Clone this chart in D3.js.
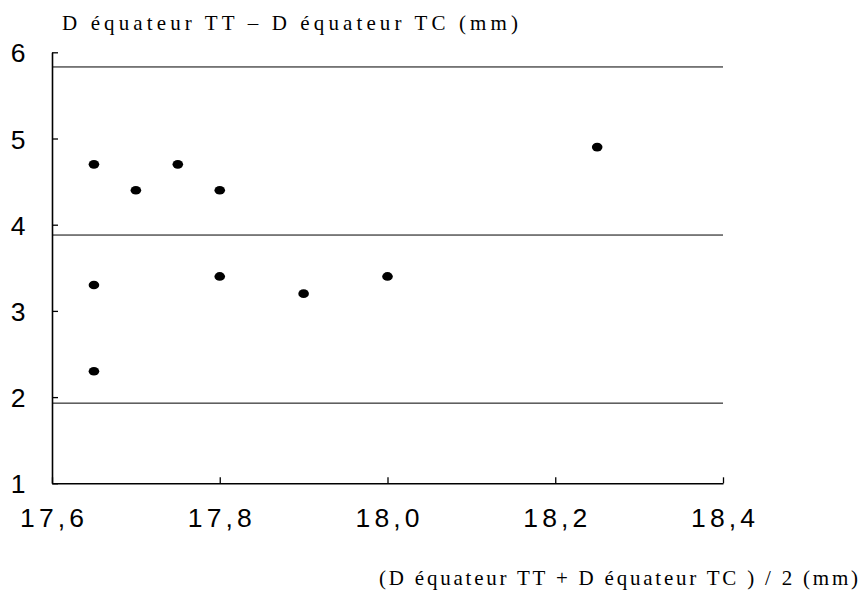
<!DOCTYPE html>
<html>
<head>
<meta charset="utf-8">
<script src="https://cdn.jsdelivr.net/npm/d3@7"></script>
<style>
  html, body { margin: 0; padding: 0; background: #fff; }
  svg { display: block; }
</style>
</head>
<body>
<svg id="chart" width="862" height="597"></svg>
<script>
// Bland-Altman style plot: mean of the two diameters vs. their difference
const meanDiameter = [17.65, 17.65, 17.65, 17.70, 17.75, 17.80, 17.80, 17.90, 18.00, 18.25];
const diffDiameter = [4.70, 3.30, 2.30, 4.40, 4.70, 4.40, 3.40, 3.20, 3.40, 4.90];

// Reference lines: mean difference and limits of agreement
const refLines = [5.83, 3.88, 1.93];

const xTicks = [17.6, 17.8, 18.0, 18.2, 18.4];
const xTickLabels = ["17,6", "17,8", "18,0", "18,2", "18,4"];
const yTicks = [1, 2, 3, 4, 5, 6];
const yTickLabels = ["1", "2", "3", "4", "5", "6"];

const yTitle = "D équateur TT – D équateur TC (mm)";
const xTitle = "(D équateur TT + D équateur TC ) / 2 (mm)";

const svg = d3.select("#chart");

const x = d3.scaleLinear().domain([17.6, 18.4]).range([52, 723]);
const y = d3.scaleLinear().domain([1, 6]).range([483.3, 52.3]);

// Horizontal reference lines
svg.append("g")
  .selectAll("line")
  .data(refLines)
  .join("line")
  .attr("x1", x(17.6))
  .attr("x2", x(18.4))
  .attr("y1", d => y(d))
  .attr("y2", d => y(d))
  .attr("stroke", "#000")
  .attr("stroke-width", 1);

// Y axis with inward ticks
const yAxis = svg.append("g")
  .attr("transform", `translate(${x(17.6)},0)`)
  .call(d3.axisLeft(y).tickValues(yTicks).tickSizeInner(-6).tickSizeOuter(0).tickFormat(""));
yAxis.select(".domain").attr("stroke", "#000").attr("stroke-width", 1.6);
yAxis.selectAll(".tick line").attr("stroke", "#000").attr("stroke-width", 1.3);

// X axis with upward ticks
const xAxis = svg.append("g")
  .attr("transform", `translate(0,${y(1)})`)
  .call(d3.axisBottom(x).tickValues(xTicks).tickSizeInner(-6).tickSizeOuter(0).tickFormat(""));
xAxis.select(".domain").attr("stroke", "#000").attr("stroke-width", 1.6);
xAxis.selectAll(".tick line").attr("stroke", "#000").attr("stroke-width", 1.3);

// Tick labels
svg.append("g")
  .selectAll("text")
  .data(xTicks)
  .join("text")
  .attr("x", d => x(d))
  .attr("y", 527)
  .attr("text-anchor", "middle")
  .attr("font-family", "'Liberation Sans', Arial, sans-serif")
  .attr("font-size", 26.5)
  .attr("textLength", 64)
  .attr("lengthAdjust", "spacing")
  .attr("fill", "#000")
  .text((d, i) => xTickLabels[i]);

svg.append("g")
  .selectAll("text")
  .data(yTicks)
  .join("text")
  .attr("x", 18)
  .attr("y", d => y(d) + 10)
  .attr("text-anchor", "middle")
  .attr("font-family", "'Liberation Sans', Arial, sans-serif")
  .attr("font-size", 26.5)
  .attr("fill", "#000")
  .text((d, i) => yTickLabels[i]);

// Axis titles
svg.append("text")
  .attr("x", 62)
  .attr("y", 30)
  .attr("font-family", "'Liberation Serif', 'Times New Roman', serif")
  .attr("font-size", 21)
  .attr("textLength", 456)
  .attr("lengthAdjust", "spacing")
  .attr("fill", "#000")
  .text(yTitle);

svg.append("text")
  .attr("x", 379)
  .attr("y", 585)
  .attr("font-family", "'Liberation Serif', 'Times New Roman', serif")
  .attr("font-size", 21)
  .attr("textLength", 479)
  .attr("lengthAdjust", "spacing")
  .attr("fill", "#000")
  .text(xTitle);

// Data points
svg.append("g")
  .selectAll("ellipse")
  .data(meanDiameter.map((m, i) => [m, diffDiameter[i]]))
  .join("ellipse")
  .attr("cx", d => x(d[0]))
  .attr("cy", d => y(d[1]))
  .attr("rx", 5.3)
  .attr("ry", 4.3)
  .attr("fill", "#000");
</script>
</body>
</html>
